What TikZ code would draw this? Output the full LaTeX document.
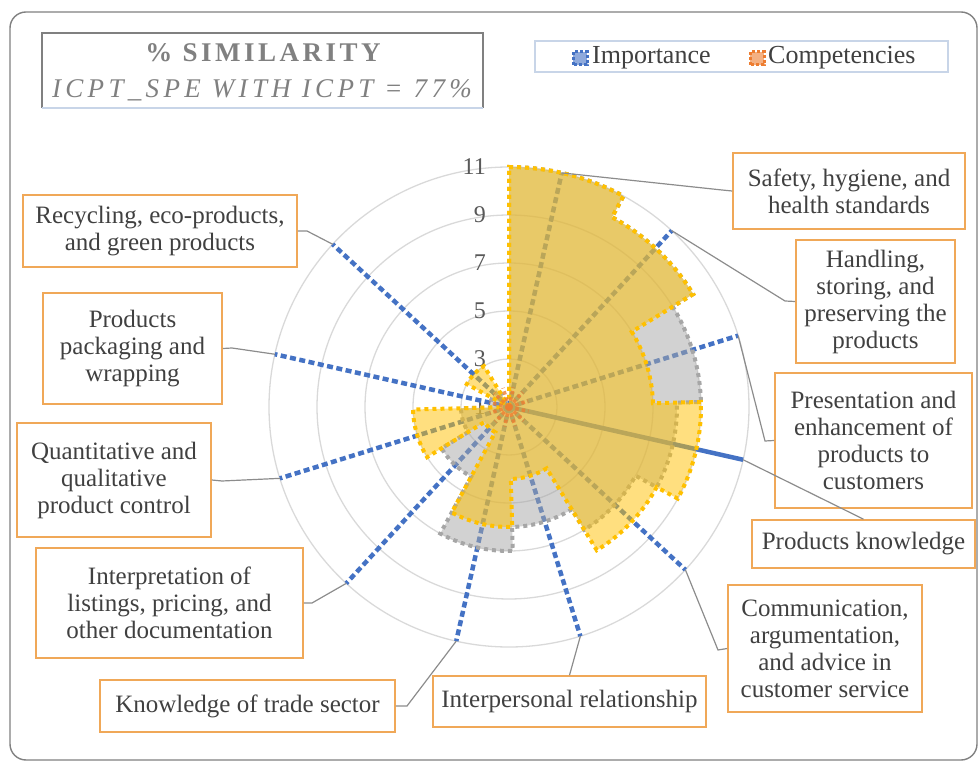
\documentclass[tikz,border=0pt]{standalone}
\usepackage{fontspec}
\setmainfont{Liberation Serif}
\newfontfamily\spacedfont[LetterSpace=13]{Liberation Serif}
\usepackage{tikz}
\usetikzlibrary{positioning}
\usetikzlibrary{calc}

\definecolor{boxorange}{RGB}{240,168,88}
\definecolor{txtgray}{RGB}{64,64,64}
\definecolor{ringgray}{RGB}{217,217,217}
\definecolor{impblue}{RGB}{68,114,196}
\definecolor{compgold}{RGB}{255,192,0}
\definecolor{compgray}{RGB}{166,166,166}
\definecolor{comporange}{RGB}{237,125,49}
\definecolor{linegray}{RGB}{140,140,140}
\definecolor{titlegray}{RGB}{128,128,128}
\definecolor{shadowblue}{RGB}{200,213,232}

\begin{document}
\begin{tikzpicture}[x=1pt, y=1pt,
  lbl/.style={draw=boxorange, line width=1.6pt, align=center, text=txtgray,
    font=\fontsize{25}{27}\selectfont, inner sep=0pt},
  conn/.style={draw=linegray, line width=1.2pt},
  spoke/.style={impblue, line width=4.5pt, dash pattern=on 6pt off 3.5pt},
  dots/.style={line width=4pt, dash pattern=on 4pt off 4pt},
  ringlbl/.style={anchor=east, text={rgb,255:red,89;green,89;blue,89},
    font=\fontsize{24}{26}\selectfont, inner sep=1pt}]

  \useasboundingbox (0,0) rectangle (980,764);
  \draw[titlegray, line width=1.4pt, rounded corners=16pt] (10,4) rectangle (977,752);

  \begin{scope}[shift={(509,357)}]
    % rings and axis values
    \foreach \v in {1,...,5}
      \draw[ringgray, line width=1.3pt] (0,0) circle[radius=48*\v];
    \foreach \v [count=\i from 0] in {1,3,5,7,9,11}
      \node[ringlbl] (ring\v) at (-22, 48*\i) {\v};

    % importance spokes
    \foreach \k in {0,...,10}
      \coordinate (s\k) at ({77.3-30*\k}:240);
    \foreach \k in {0,1,2,4,5,6,7,8,9,10}
      \draw[spoke] (0,0) -- (s\k);
    \draw[impblue, line width=4.5pt] (0,0) -- (s3);

    % gray area
    \draw[dots, draw=compgray, fill=compgray, fill opacity=0.5] (0,0)
      foreach \sa/\ea/\ra in {90/61.5/240, 61.5/31.5/216, 31.5/1.5/192,
        1.5/-28.5/168, -28.5/-58.5/144, -58.5/-88.5/120, -88.5/-118.5/144,
        -118.5/-148.5/79.2, -148.5/-178.5/48, -178.5/-208.5/19.2,
        -208.5/-238.5/19.2, -238.5/-270/1.2}
      { -- (\sa:\ra) arc[start angle=\sa, end angle=\ea, radius=\ra] } -- cycle;

    % gold area
    \draw[dots, draw=compgold, fill=compgold, fill opacity=0.5] (0,0)
      foreach \sa/\ea/\ra in {90/61.5/240, 61.5/31.5/216, 31.5/1.5/144,
        1.5/-28.5/192, -28.5/-58.5/168, -58.5/-88.5/72, -88.5/-118.5/120,
        -118.5/-148.5/28.8, -148.5/-178.5/96, -178.5/-208.5/7.2,
        -208.5/-238.5/48, -238.5/-270/1.2}
      { -- (\sa:\ra) arc[start angle=\sa, end angle=\ea, radius=\ra] } -- cycle;

    % competencies
    \foreach \k in {0,...,11}
      \draw[comporange, line width=3.5pt, dash pattern=on 3.5pt off 3pt, opacity=0.8]
        (0,0) -- ({77.3-30*\k}:20);
  \end{scope}

  % category boxes
  \node[lbl, minimum width=232pt, minimum height=76pt] (safety) at (849,573)
    {Safety, hygiene, and\\health standards};
  \node[lbl, minimum width=159pt, minimum height=123pt] (handling) at (875.5,462.5)
    {Handling,\\storing, and\\preserving the\\products};
  \node[lbl, minimum width=197pt, minimum height=135pt] (presentation) at (873.5,323.5)
    {Presentation and\\enhancement of\\products to\\customers};
  \node[lbl, minimum width=223pt, minimum height=48pt] (knowledge) at (863.5,220)
    {Products knowledge};
  \node[lbl, minimum width=194pt, minimum height=127pt] (communication) at (825,115.5)
    {Communication,\\argumentation,\\and advice in\\customer service};
  \node[lbl, minimum width=273pt, minimum height=51pt] (interpersonal) at (569.5,62.5)
    {Interpersonal relationship};
  \node[lbl, minimum width=295pt, minimum height=52pt] (trade) at (247.5,58)
    {Knowledge of trade sector};
  \node[lbl, minimum width=267pt, minimum height=110pt] (listings) at (169.5,161)
    {Interpretation of\\listings, pricing, and\\other documentation};
  \node[lbl, minimum width=194pt, minimum height=114pt] (control) at (114,284)
    {Quantitative and\\qualitative\\product control};
  \node[lbl, minimum width=179pt, minimum height=111pt] (packaging) at (132.5,415.5)
    {Products\\packaging and\\wrapping};
  \node[lbl, minimum width=274pt, minimum height=72pt] (recycling) at (160,533)
    {Recycling, eco-products,\\and green products};

  % leader lines
  \draw[conn] (s0) -- (722,574) -- (safety.west);
  \draw[conn] (s1) -- (785,463) -- (handling.west);
  \draw[conn] (s2) -- (765,323) -- (presentation.west);
  \draw[conn] (s3) -- (knowledge.north);
  \draw[conn] (s4) -- (718,114) -- (communication.west);
  \draw[conn] (s5) -- (interpersonal.north);
  \draw[conn] (s6) -- (407,58) -- (trade.east);
  \draw[conn] (s7) -- (312,161) -- (listings.east);
  \draw[conn] (s8) -- (222,283) -- (control.east);
  \draw[conn] (s9) -- (232,416) -- (packaging.east);
  \draw[conn] (s10) -- (307,533) -- (recycling.east);

  % title
  \draw[titlegray, line width=1.3pt] (42,656) -- (42,731) -- (483,731) -- (483,656);
  \draw[shadowblue, line width=1.6pt] (42,656) -- (483,656);
  \node[text=titlegray, font=\spacedfont\fontsize{27}{30}\selectfont\bfseries]
    (similarity) at (263,711) {\% SIMILARITY};
  \node[text=titlegray, font=\spacedfont\addfontfeature{LetterSpace=16}\fontsize{27}{30}\selectfont\itshape]
    (pairing) at (262,674) {ICPT\_SPE WITH ICPT = 77\%};

  % legend
  \draw[shadowblue, line width=1.3pt] (535,692) rectangle (948,723);
  \draw[impblue, fill=impblue!60, line width=3pt, dash pattern=on 3pt off 2pt]
    (573,699) rectangle (587,712);
  \node[anchor=west, text=txtgray, font=\fontsize{26}{28}\selectfont, inner sep=0pt]
    (importance) at (592,706) {Importance};
  \draw[comporange, fill=comporange!60, line width=3pt, dash pattern=on 3pt off 2pt]
    (750,699) rectangle (764,712);
  \node[anchor=west, text=txtgray, font=\fontsize{26}{28}\selectfont, inner sep=0pt]
    (competencies) at (768,706) {Competencies};
\end{tikzpicture}
\end{document}
